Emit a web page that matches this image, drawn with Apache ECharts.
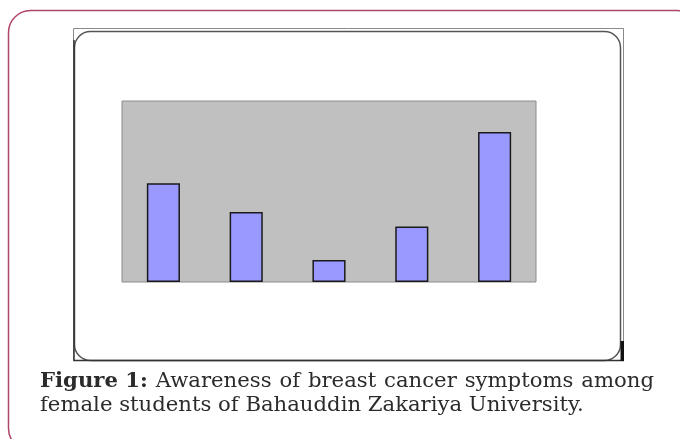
<!DOCTYPE html>
<html>
<head>
<meta charset="utf-8">
<script src="https://cdn.jsdelivr.net/npm/echarts@6/dist/echarts.min.js"></script>
<style>
  html, body { margin: 0; padding: 0; background: #fff; }
  #chart { width: 680px; height: 439px; }
</style>
</head>
<body>
<div id="chart"></div>
<script>
// categories (no labels visible in the figure)
const categories = ['1', '2', '3', '4', '5'];
// bar heights as % of the plot height
const values = [54.5, 38.7, 12.2, 30.6, 82.9];

const captionBold = 'Figure 1:';
const captionLine1 = ['Awareness', 'of', 'breast', 'cancer', 'symptoms', 'among'];
const captionLine2 = 'female students of Bahauddin Zakariya University.';

const serif = '"DejaVu Serif", "Liberation Serif", serif';

// fit font size so line 2 is about as wide as in the figure
const ctx = document.createElement('canvas').getContext('2d');
ctx.font = '20px ' + serif;
let fs = 20 * 543 / ctx.measureText(captionLine2).width;
fs = Math.round(fs * 10) / 10;

// justify line 1 between x=40 and x=654
const left = 40, right = 654;
ctx.font = 'bold ' + fs + 'px ' + serif;
const wb = ctx.measureText(captionBold).width;
ctx.font = fs + 'px ' + serif;
const ws = captionLine1.map(w => ctx.measureText(w).width);
const gap = (right - left - wb - ws.reduce((a, b) => a + b, 0)) / captionLine1.length;

const captionEls = [{
  type: 'text', left: left, top: 387 - fs * 0.76,
  style: { text: captionBold, font: 'bold ' + fs + 'px ' + serif, fill: '#2b2b2b' }
}];
let cx = left + wb + gap;
captionLine1.forEach((w, i) => {
  captionEls.push({
    type: 'text', left: cx, top: 387 - fs * 0.76,
    style: { text: w, font: fs + 'px ' + serif, fill: '#2b2b2b' }
  });
  cx += ws[i] + gap;
});
captionEls.push({
  type: 'text', left: left, top: 411 - fs * 0.76,
  style: { text: captionLine2, font: fs + 'px ' + serif, fill: '#2b2b2b' }
});

const chart = echarts.init(document.getElementById('chart'));
chart.setOption({
  animation: false,
  grid: {
    left: 122, top: 101, width: 414, height: 181,
    show: true, backgroundColor: '#c0c0c0', borderColor: '#8c8c8c', borderWidth: 1
  },
  xAxis: {
    type: 'category', data: categories,
    axisLine: { show: false }, axisTick: { show: false }, axisLabel: { show: false }
  },
  yAxis: {
    type: 'value', min: 0, max: 100,
    axisLine: { show: false }, axisTick: { show: false }, axisLabel: { show: false },
    splitLine: { show: false }
  },
  series: [{
    type: 'bar',
    data: values,
    barWidth: '40%',
    itemStyle: { color: '#9999ff', borderColor: '#1a1a1a', borderWidth: 1.5 }
  }],
  graphic: [
    // outer rounded border
    {
      type: 'rect', silent: true,
      shape: { x: 8.5, y: 10.5, width: 690, height: 440, r: 22 },
      style: { fill: 'none', stroke: '#b0456b', lineWidth: 1.5 }
    },
    // figure frame (square)
    {
      type: 'rect', silent: true,
      shape: { x: 73.5, y: 28.5, width: 550, height: 332 },
      style: { fill: 'none', stroke: '#8a8a8a', lineWidth: 1 }
    },
    // figure frame (rounded)
    {
      type: 'rect', silent: true,
      shape: { x: 74.5, y: 31.5, width: 546, height: 329, r: 16 },
      style: { fill: 'none', stroke: '#555', lineWidth: 1.5 }
    },
    // left and bottom dark edges
    {
      type: 'polyline', silent: true,
      shape: { points: [[74, 40], [74, 360.5], [624, 360.5]] },
      style: { stroke: '#333', lineWidth: 1.5, fill: 'none' }
    },
    // black bar bottom right
    {
      type: 'rect', silent: true,
      shape: { x: 620.5, y: 341, width: 3.5, height: 20 },
      style: { fill: '#111' }
    }
  ].concat(captionEls)
});
</script>
</body>
</html>
